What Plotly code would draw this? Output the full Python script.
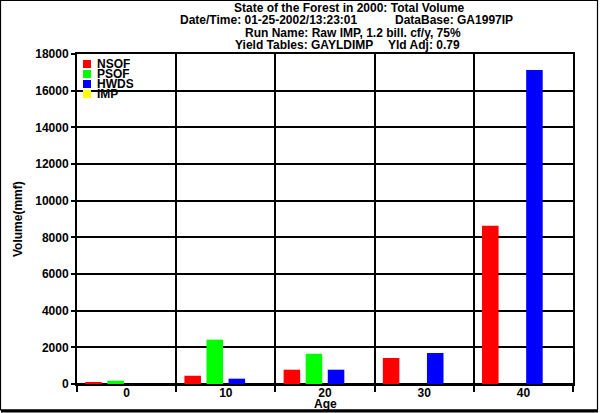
import plotly.graph_objects as go

ages = ["0", "10", "20", "30", "40"]
series_names = ["NSOF", "PSOF", "HWDS", "IMP"]
series_colors = ["#ff0000", "#00ff00", "#0000ff", "#ffff00"]
nsof = [70, 450, 780, 1420, 8630]
psof = [180, 2420, 1650, 0, 0]
hwds = [0, 290, 780, 1690, 17130]
imp = [0, 0, 0, 0, 0]
series_values = [nsof, psof, hwds, imp]

title_lines = [
    "State of the Forest in 2000: Total Volume",
    "Date/Time: 01-25-2002/13:23:01",
    "DataBase: GA1997IP",
    "Run Name: Raw IMP, 1.2 bill. cf/y, 75%",
    "Yield Tables: GAYLDIMP",
    "Yld Adj: 0.79",
]
y_title = "Volume(mmf)"
x_title = "Age"

W, H = 600, 413
ML, MR, MT, MB = 77, 27, 54, 29
PW = W - ML - MR
PH = H - MT - MB
FONT = "Liberation Sans, Arial, sans-serif"


def px(x):
    return (x - ML) / PW


def py(y):
    return (H - MB - y) / PH


fig = go.Figure()
for name, color, vals in zip(series_names, series_colors, series_values):
    fig.add_trace(go.Bar(x=ages, y=vals, name=name, marker_color=color,
                         marker_line_width=0, showlegend=False))

bold = dict(family=FONT, size=12, color="black", weight="bold")

annotations = []
annotations.append(dict(text=title_lines[0], x=px(349), y=py(8), xanchor="center"))
annotations.append(dict(text=title_lines[1], x=px(178), y=py(20), xanchor="left"))
annotations.append(dict(text=title_lines[2], x=px(393), y=py(20), xanchor="left"))
annotations.append(dict(text=title_lines[3], x=px(353), y=py(33), xanchor="center"))
annotations.append(dict(text=title_lines[4], x=px(233), y=py(45), xanchor="left"))
annotations.append(dict(text=title_lines[5], x=px(386), y=py(45), xanchor="left"))
annotations.append(dict(text=y_title, x=px(18), y=py(219), xanchor="center",
                        textangle=-90))
annotations.append(dict(text=x_title, x=px(325), y=py(404), xanchor="center"))

shapes = []
for i, (name, color) in enumerate(zip(series_names, series_colors)):
    yc = 64 + i * 10
    shapes.append(dict(type="rect", xref="paper", yref="paper",
                       x0=px(83), x1=px(91), y0=py(yc - 4), y1=py(yc + 4),
                       fillcolor=color, line_width=0))
    annotations.append(dict(text=name, x=px(95), y=py(yc), xanchor="left",
                            height=10))

for a in annotations:
    a.update(xref="paper", yref="paper", yanchor="middle", showarrow=False,
             font=bold)

# image frame
shapes.append(dict(type="rect", xref="paper", yref="paper",
                   x0=px(0.5), x1=px(597.5), y0=py(0.5), y1=py(410),
                   line=dict(color="black", width=1.2)))
shapes.append(dict(type="line", xref="paper", yref="paper",
                   x0=px(1), x1=px(598), y0=py(411), y1=py(411),
                   line=dict(color="black", width=3)))

fig.update_layout(
    width=W, height=H,
    margin=dict(l=ML, r=MR, t=MT, b=MB),
    paper_bgcolor="white", plot_bgcolor="white",
    barmode="group", bargap=0.11, bargroupgap=0.25,
    font=bold,
    showlegend=False,
    annotations=annotations,
    shapes=shapes,
)
fig.update_xaxes(
    type="category", tickson="boundaries", ticks="outside", ticklen=6,
    tickwidth=2, tickcolor="black", showgrid=True, gridcolor="black",
    gridwidth=2, showline=True, linecolor="black", linewidth=2, mirror=True,
    tickfont=bold, ticklabelstandoff=-3,
)
fig.update_yaxes(
    range=[0, 18000], dtick=2000, tickformat="d", ticks="outside", ticklen=4,
    tickwidth=2, tickcolor="black", showgrid=True, gridcolor="black",
    gridwidth=2, zeroline=True, zerolinecolor="black", zerolinewidth=2,
    showline=True, linecolor="black", linewidth=2, mirror=True,
    tickfont=bold,
)

fig.write_html("out.html", config={"displayModeBar": False},
               post_script="document.body.style.margin='0';")
